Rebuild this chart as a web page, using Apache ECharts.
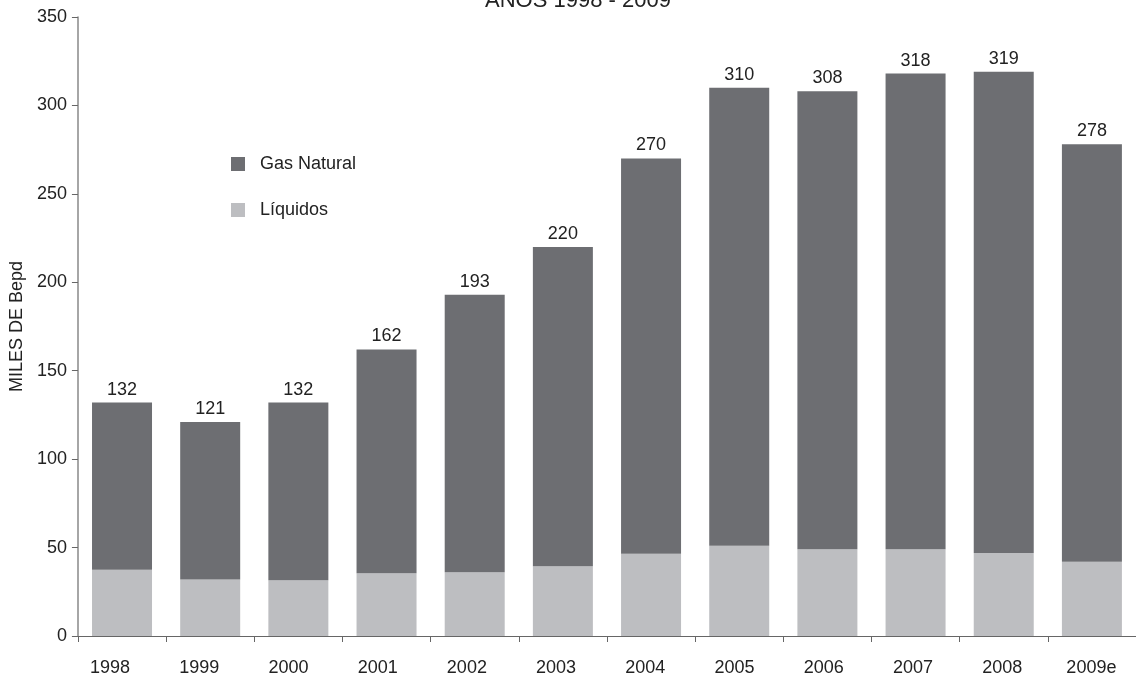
<!DOCTYPE html>
<html>
<head>
<meta charset="utf-8">
<script src="https://cdn.jsdelivr.net/npm/echarts@6/dist/echarts.min.js"></script>
<style>
html,body{margin:0;padding:0;background:#fff;}
#chart{width:1136px;height:678px;}
</style>
</head>
<body>
<div id="chart"></div>
<script>
const categories = ['1998','1999','2000','2001','2002','2003','2004','2005','2006','2007','2008','2009e'];
const totals = [132,121,132,162,193,220,270,310,308,318,319,278];
const liquidos = [37.5,32,31.5,35.5,36,39.5,46.5,51,49,49,47,42];
const gasNatural = [94.5,89,100.5,126.5,157,180.5,223.5,259,259,269,272,236];

const FONT = 'Liberation Sans, Arial, sans-serif';
const chart = echarts.init(document.getElementById('chart'));
chart.setOption({
  backgroundColor: '#fff',
  animation: false,
  title: {
    text: 'AÑOS 1998 - 2009',
    left: 578,
    textAlign: 'center',
    top: -10,
    padding: 0,
    textStyle: {fontFamily: FONT, fontSize: 22, fontWeight: 'normal', color: '#222'}
  },
  legend: {
    orient: 'vertical',
    left: 231,
    top: 155,
    itemWidth: 14,
    itemHeight: 14,
    itemGap: 28,
    padding: 0,
    icon: 'rect',
    textStyle: {fontFamily: FONT, fontSize: 18, color: '#222', padding: [0,0,0,10]},
    data: ['Gas Natural', 'Líquidos']
  },
  grid: [
    {left: 77, right: -7, top: 17, bottom: 42, containLabel: false},
    {left: 65.4, right: -11.2, top: 17, bottom: 42, containLabel: false}
  ],
  xAxis: [
    {
      type: 'category',
      gridIndex: 0,
      data: categories,
      axisLine: {lineStyle: {color: '#666', width: 1}},
      axisTick: {show: true, length: 6, lineStyle: {color: '#666'}},
      axisLabel: {show: false}
    },
    {
      type: 'category',
      gridIndex: 1,
      data: categories,
      axisLine: {show: false},
      axisTick: {show: false},
      axisLabel: {fontFamily: FONT, fontSize: 18, color: '#222', margin: 23}
    }
  ],
  yAxis: [
    {
      type: 'value',
      gridIndex: 0,
      min: 0,
      max: 350,
      interval: 50,
      name: 'MILES DE Bepd',
      nameLocation: 'middle',
      nameGap: 50,
      nameTextStyle: {fontFamily: FONT, fontSize: 18, color: '#222'},
      axisLine: {show: true, lineStyle: {color: '#888', width: 1.5}},
      axisTick: {show: true, length: 6, lineStyle: {color: '#666'}},
      axisLabel: {fontFamily: FONT, fontSize: 18, color: '#222', margin: 11},
      splitLine: {show: false}
    },
    {
      type: 'value',
      gridIndex: 1,
      min: 0,
      max: 350,
      show: false
    }
  ],
  series: [
    {
      name: 'Líquidos',
      type: 'bar',
      stack: 'total',
      data: liquidos,
      barWidth: 60,
      itemStyle: {color: '#bdbec1'}
    },
    {
      name: 'Gas Natural',
      type: 'bar',
      stack: 'total',
      data: gasNatural,
      barWidth: 60,
      itemStyle: {color: '#6d6e72'},
      label: {
        show: true,
        position: 'top',
        distance: 4,
        fontFamily: FONT,
        fontSize: 18,
        color: '#222',
        formatter: function (p) { return totals[p.dataIndex]; }
      }
    }
  ]
});
</script>
</body>
</html>
